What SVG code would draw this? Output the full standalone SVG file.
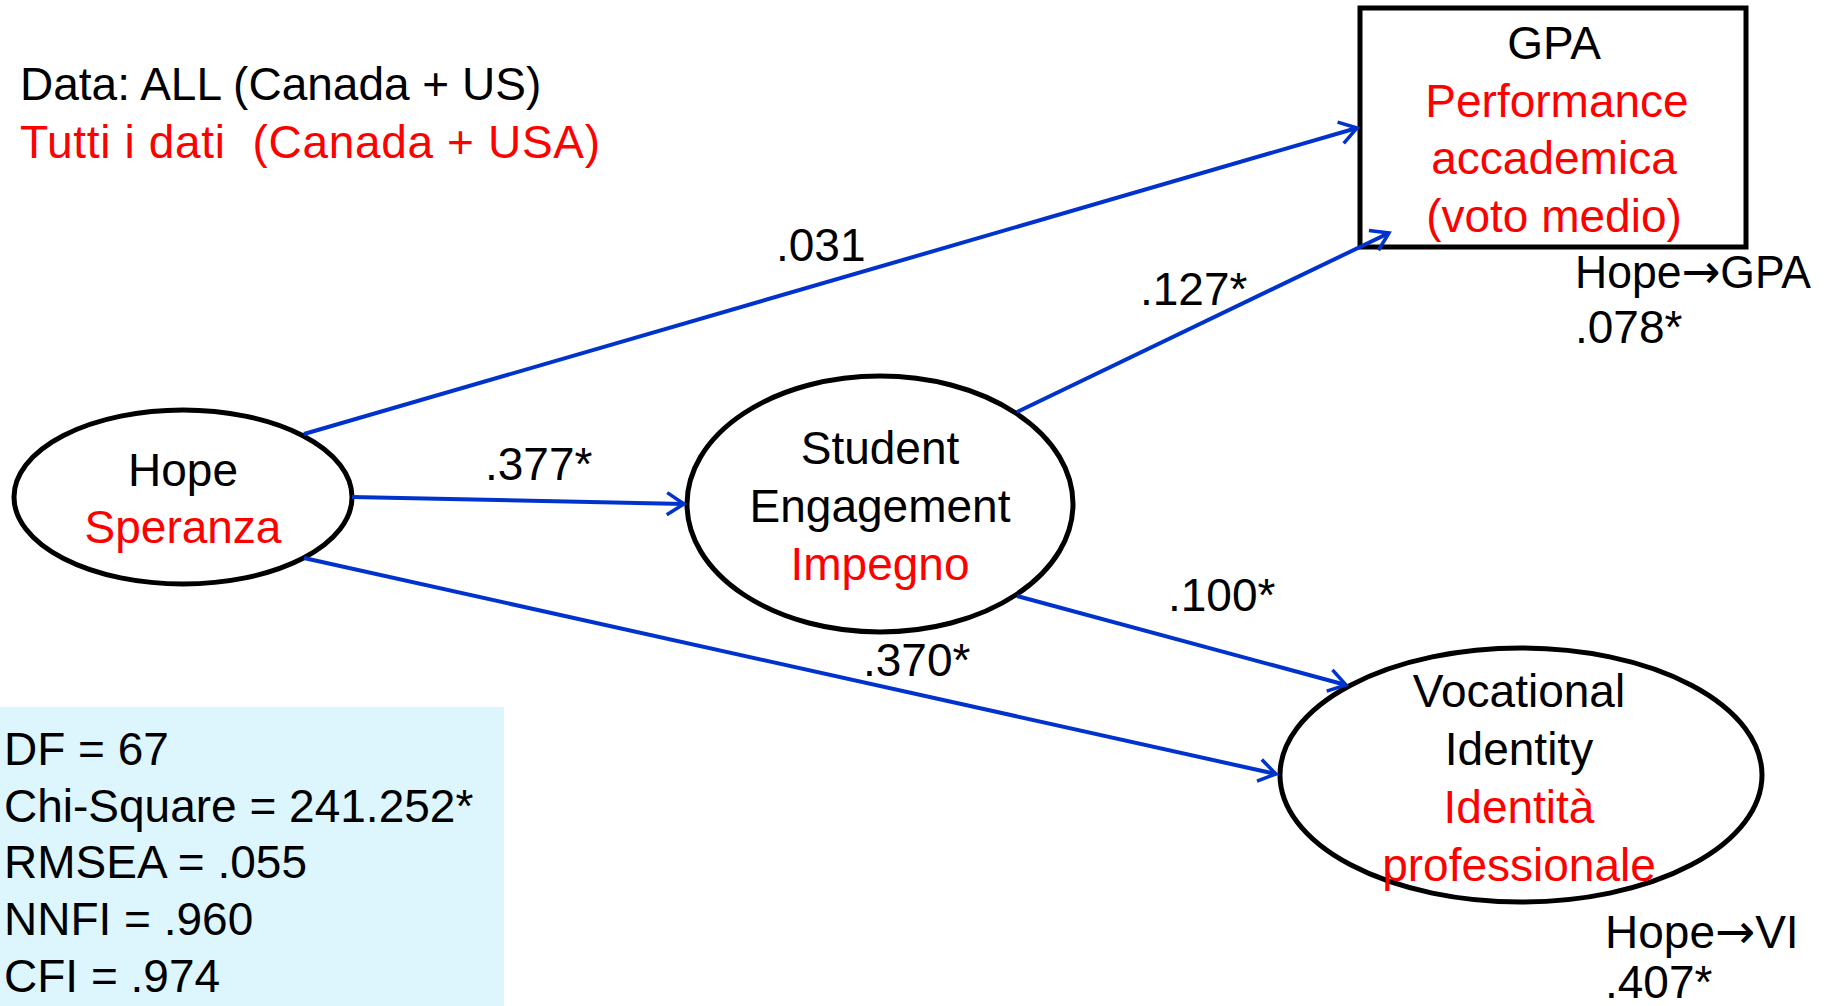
<svg xmlns="http://www.w3.org/2000/svg" width="1824" height="1006" viewBox="0 0 1824 1006">
<defs>
<style>
text{font-family:"Liberation Sans",Arial,sans-serif;font-size:46px;fill:#000}
.red{fill:#ff0000}
.mid{text-anchor:middle}
.arrowglyph{font-family:"DejaVu Sans",sans-serif;font-size:48px}
.node{fill:#fff;stroke:#000;stroke-width:5}
.conn{stroke:#0033cc;stroke-width:4;fill:none}
</style>
<marker id="arr" markerUnits="userSpaceOnUse" markerWidth="24" markerHeight="26" viewBox="0 0 22 26" refX="19" refY="13" orient="auto">
<path d="M2,2 L19,13 L2,24" fill="none" stroke="#0033cc" stroke-width="3.5"/>
</marker>
</defs>
<rect width="1824" height="1006" fill="#fff"/>
<g id="header">
<text x="20" y="100">Data: ALL (Canada + US)</text>
<text x="20" y="158" class="red" xml:space="preserve" textLength="580" lengthAdjust="spacing">Tutti i dati  (Canada + USA)</text>
</g>
<g id="fit-stats">
<rect x="0" y="707" width="504" height="299" fill="#ddf5fd"/>
<text x="4" y="765">DF = 67</text>
<text x="4" y="822">Chi-Square = 241.252*</text>
<text x="4" y="878">RMSEA = .055</text>
<text x="4" y="935">NNFI = .960</text>
<text x="4" y="992">CFI = .974</text>
</g>
<g id="node-gpa">
<rect x="1360" y="8" width="386" height="239" fill="#fff" stroke="#000" stroke-width="5"/>
<text x="1554" y="59" class="mid">GPA</text>
<text x="1557" y="117" class="mid red">Performance</text>
<text x="1554" y="174" class="mid red">accademica</text>
<text x="1554" y="232" class="mid red">(voto medio)</text>
<text x="1575" y="288" textLength="236" lengthAdjust="spacingAndGlyphs">Hope<tspan class="arrowglyph">→</tspan>GPA</text>
<text x="1575" y="343">.078*</text>
</g>
<g id="node-hope">
<ellipse class="node" cx="183" cy="497" rx="169" ry="87"/>
<text x="183" y="486" class="mid">Hope</text>
<text x="183" y="543" class="mid red">Speranza</text>
</g>
<g id="node-engagement">
<ellipse class="node" cx="880" cy="504" rx="193" ry="128"/>
<text x="880" y="464" class="mid">Student</text>
<text x="880" y="522" class="mid">Engagement</text>
<text x="880" y="580" class="mid red">Impegno</text>
</g>
<g id="node-vi">
<ellipse class="node" cx="1521" cy="775" rx="241" ry="127"/>
<text x="1519" y="707" class="mid">Vocational</text>
<text x="1519" y="765" class="mid">Identity</text>
<text x="1519" y="823" class="mid red">Identità</text>
<text x="1519" y="881" class="mid red">professionale</text>
<text x="1605" y="948">Hope<tspan class="arrowglyph">→</tspan>VI</text>
<text x="1605" y="998">.407*</text>
</g>
<g id="connectors">
<line class="conn" x1="304" y1="434" x2="1357" y2="128" marker-end="url(#arr)"/>
<line class="conn" x1="352" y1="497" x2="684" y2="504" marker-end="url(#arr)"/>
<line class="conn" x1="304" y1="558" x2="1276" y2="774" marker-end="url(#arr)"/>
<line class="conn" x1="1017" y1="412" x2="1389" y2="233" marker-end="url(#arr)"/>
<line class="conn" x1="1017" y1="596" x2="1346" y2="685" marker-end="url(#arr)"/>
<text x="776" y="261">.031</text>
<text x="1140" y="305">.127*</text>
<text x="485" y="480">.377*</text>
<text x="1168" y="611">.100*</text>
<text x="863" y="676">.370*</text>
</g>
</svg>
